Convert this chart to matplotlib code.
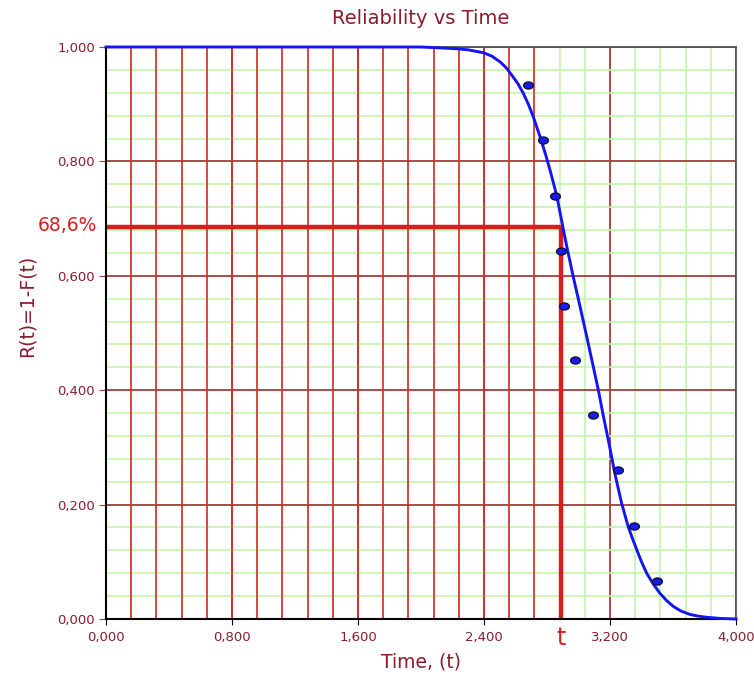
import matplotlib
matplotlib.use("Agg")
import matplotlib.pyplot as plt
import numpy as np
from matplotlib.path import Path
from matplotlib.transforms import Affine2D

# ---- data (time in thousands, as the tick labels show) ----
curve_t = [0.000, 2.000, 2.229, 2.300, 2.396, 2.450, 2.502, 2.540, 2.576, 2.615,
           2.650, 2.683, 2.713, 2.756, 2.790, 2.819, 2.862, 2.903, 2.925, 2.967,
           3.010, 3.052, 3.094, 3.126, 3.157, 3.200, 3.232, 3.274, 3.316, 3.345,
           3.370, 3.400, 3.433, 3.475, 3.517, 3.560, 3.602, 3.650, 3.708, 3.760,
           3.814, 3.900, 4.000]
curve_R = [1.000, 1.000, 0.997, 0.995, 0.990, 0.984, 0.974, 0.964, 0.951, 0.936,
           0.919, 0.899, 0.878, 0.843, 0.813, 0.785, 0.740, 0.682, 0.652, 0.598,
           0.546, 0.494, 0.441, 0.400, 0.356, 0.298, 0.253, 0.202, 0.161, 0.139,
           0.121, 0.100, 0.080, 0.061, 0.045, 0.032, 0.022, 0.014, 0.008, 0.005,
           0.003, 0.001, 0.000]

pts_t = [2.681, 2.773, 2.853, 2.887, 2.910, 2.976, 3.094, 3.253, 3.352, 3.500]
pts_R = [0.933, 0.837, 0.740, 0.644, 0.548, 0.452, 0.356, 0.260, 0.163, 0.067]

t_mark = 2.890
R_mark = 0.686
mark_label = "68,6%"

xticks = [0.0, 0.8, 1.6, 2.4, 3.2, 4.0]
xtick_labels = ["0,000", "0,800", "1,600", "2,400", "3,200", "4,000"]
yticks = [0.0, 0.2, 0.4, 0.6, 0.8, 1.0]
ytick_labels = ["0,000", "0,200", "0,400", "0,600", "0,800", "1,000"]
overlay_x = [round(0.16 * k, 2) for k in range(1, 18)]  # hand-drawn red lines

# ---- style ----
txt = "#8a1c2c"
red = "#d91e1e"
green = "#c4f5ad"
major = "#a83a3a"

fig = plt.figure(figsize=(7.54, 6.78), dpi=100)
ax = fig.add_axes([106/754, (678-619)/678, (736-106)/754, (619-47)/678])
ax.set_xlim(0, 4.0)
ax.set_ylim(0, 1.0)

# grids
ax.set_xticks(np.arange(0, 4.0001, 0.16), minor=True)
ax.set_yticks(np.arange(0, 1.0001, 0.04), minor=True)
ax.grid(which="minor", color=green, linewidth=1.2, zorder=0)
ax.grid(which="major", color=major, linewidth=1.3, zorder=0.5)
ax.tick_params(which="minor", length=0)
ax.set_axisbelow(True)

for x in overlay_x:
    ax.plot([x, x], [0, 1], color="#dc2a2a", linewidth=1.2, zorder=1)

# thick red marker lines
ax.plot([0, t_mark], [R_mark, R_mark], color=red, linewidth=3.2, zorder=2,
        solid_capstyle="butt")
ax.plot([t_mark, t_mark], [0, R_mark], color=red, linewidth=3.2, zorder=2,
        solid_capstyle="butt")

# curve and points
ax.plot(curve_t, curve_R, color="#1414f5", linewidth=2.1, zorder=3, clip_on=False,
        solid_joinstyle="round")
circ = Path.unit_circle()
ell = circ.transformed(Affine2D().scale(1.0, 0.72))
ax.plot(pts_t, pts_R, linestyle="none", marker=ell, markersize=7,
        markerfacecolor="#1a1aff", markeredgecolor="#101030", markeredgewidth=1.0,
        zorder=4)

# ticks
ax.set_xticks(xticks)
ax.set_xticklabels(xtick_labels)
ax.set_yticks(yticks)
ax.set_yticklabels(ytick_labels)
ax.tick_params(axis="x", which="major", direction="out", length=4, color="black",
               labelcolor=txt, labelsize=9.5, pad=5)
ax.tick_params(axis="y", which="major", direction="out", length=5, color=major,
               labelcolor=txt, labelsize=9.5, pad=3)

for s in ["left", "bottom"]:
    ax.spines[s].set_color("black")
    ax.spines[s].set_linewidth(1.5)
for s in ["top", "right"]:
    ax.spines[s].set_color("#555555")
    ax.spines[s].set_linewidth(1.3)

fig.text(421/754, 1 - 18/678, "Reliability vs Time", ha="center", va="center",
         color=txt, fontsize=14)
fig.text(421/754, 1 - 662/678, "Time, (t)", ha="center", va="center",
         color=txt, fontsize=13.5)
fig.text(27/754, 1 - 306/678, "R(t)=1-F(t)", ha="center", va="center",
         rotation=90, color=txt, fontsize=13.5)
fig.text(97/754, 1 - 226/678, mark_label, ha="right", va="center",
         color=red, fontsize=13.5)
ax.text(t_mark, -0.012, "t", transform=ax.get_xaxis_transform(),
        ha="center", va="top", color=red, fontsize=17, clip_on=False)

fig.savefig("out.png", dpi=100)
